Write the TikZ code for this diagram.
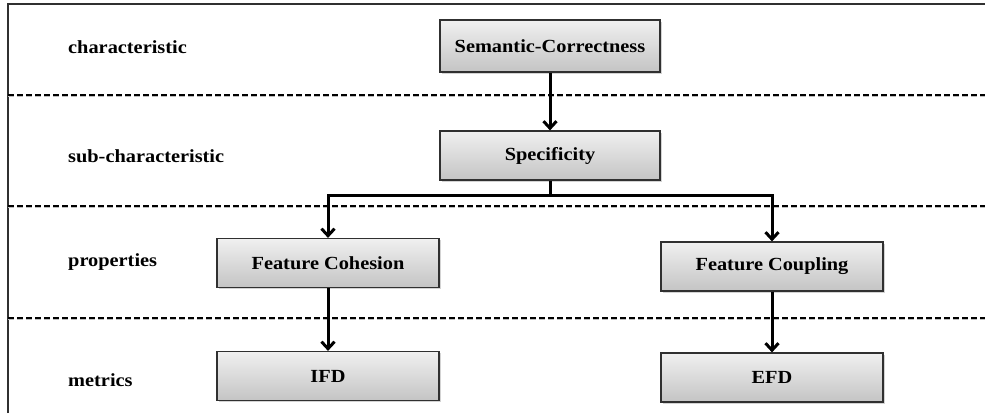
\documentclass[tikz,border=0pt]{standalone}
\usepackage{fontspec}
\setmainfont[FakeStretch=1.1]{Liberation Serif}
\usepackage{xcolor}
\usetikzlibrary{shadows,arrows.meta}

\definecolor{framegray}{HTML}{303030}
\definecolor{boxtop}{HTML}{F0F0F0}
\definecolor{boxbot}{HTML}{C4C4C4}

\tikzset{
  levelbox/.style={draw=framegray, line width=1.2pt, top color=boxtop, bottom color=boxbot,
    minimum width=222pt, minimum height=49pt, inner sep=0pt,
    drop shadow={shadow xshift=1.5pt, shadow yshift=-1.5pt, opacity=0.35},
    font=\fontsize{18.5}{20}\selectfont\bfseries},
  levellabel/.style={anchor=west, inner sep=0pt, font=\fontsize{18.5}{20}\selectfont\bfseries},
  flow/.style={line width=3pt, -{Straight Barb[length=7pt,width=13pt,line width=3pt]}}
}

\begin{document}
\begin{tikzpicture}[x=1pt,y=-1pt]
\useasboundingbox (0,0) rectangle (985,413);

% frame and level separators
\draw[framegray, line width=2pt] (8,413)--(8,4)--(985,4);
\foreach \y in {95,206,318}{ \draw[gray!50, line width=1.5pt, dash pattern=on 6pt off 3pt] (8,\y+1.5)--(985,\y+1.5);
  \draw[line width=1.5pt, dash pattern=on 6pt off 3pt] (8,\y)--(985,\y); }

% level names
\foreach \y/\txt [count=\i] in {47/characteristic,156/sub-characteristic,262/properties,380/metrics}
{ \node[levellabel] (lvl\i) at (68,\y) {\txt}; }

% boxes
\node[levelbox, minimum width=220pt, minimum height=52pt] (sc) at (550,46) {Semantic-Correctness};
\node[levelbox, minimum width=220pt] (spec) at (550,155.5) {Specificity};
\node[levelbox] (fch) at (328,263) {Feature Cohesion};
\node[levelbox] (fcp) at (772,266.5) {Feature Coupling};
\node[levelbox] (ifd) at (328,376) {IFD};
\node[levelbox] (efd) at (772,377.5) {EFD};

% connectors
\coordinate (split) at (550,195);
\draw[flow] (sc) -- (spec);
\draw[line width=3pt] (spec.south) -- (split);
\draw[flow] (split) -| (fch.north);
\draw[flow] (split) -| (fcp.north);
\draw[flow] (fch) -- (ifd);
\draw[flow] (fcp) -- (efd);
\end{tikzpicture}
\end{document}
